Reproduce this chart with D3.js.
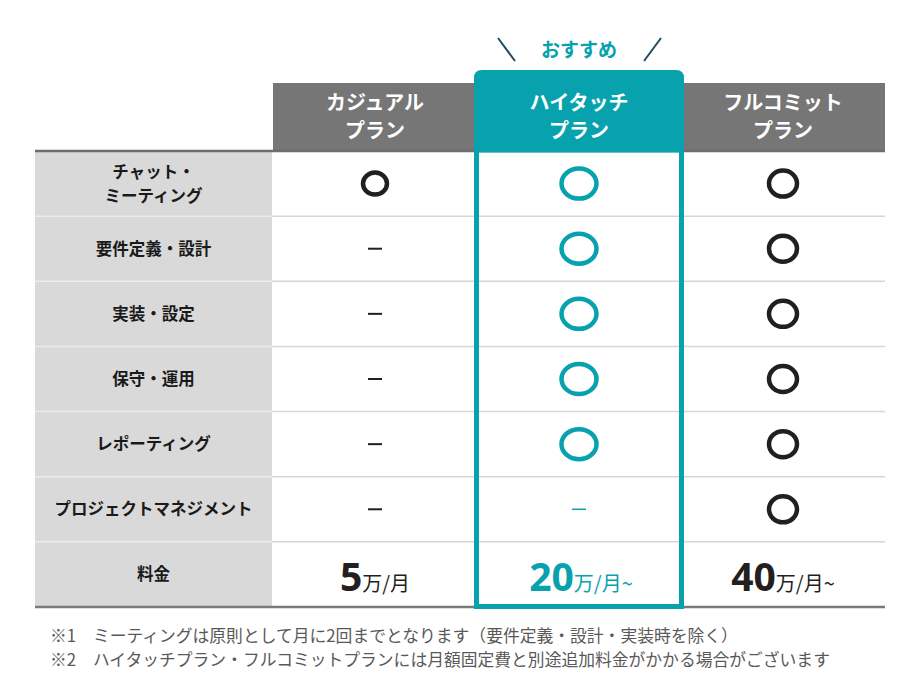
<!DOCTYPE html>
<html><head><meta charset="utf-8">
<script src="https://cdn.jsdelivr.net/npm/d3@7"></script>
<style>body{margin:0;background:#fff;font-family:"Noto Sans CJK JP","Noto Sans",sans-serif;}</style>
</head><body><svg id="c" width="920" height="690"></svg>
<script>
const plans = [["カジュアル","プラン"],["ハイタッチ","プラン"],["フルコミット","プラン"]];
const features = [["チャット・","ミーティング"],["要件定義・設計"],["実装・設定"],["保守・運用"],["レポーティング"],["プロジェクトマネジメント"],["料金"]];
const casual = ["o","-","-","-","-","-"];
const hightouch = ["o","o","o","o","o","-"];
const fullcommit = ["o","o","o","o","o","o"];
const prices = [["5","万/月"],["20","万/月~"],["40","万/月~"]];
const notes = ["※1　ミーティングは原則として月に2回までとなります（要件定義・設計・実装時を除く）","※2　ハイタッチプラン・フルコミットプランには月額固定費と別途追加料金がかかる場合がございます"];
const badge = "おすすめ";

const TEAL="#07a2ae", GRAY="#767676", DARK="#231f20";
const svg=d3.select("#c");
const x=d3.scaleBand().domain([0,1,2]).range([273,885]).paddingInner(0);
const y=d3.scaleBand().domain(d3.range(features.length)).range([151,607]);
const labelX0=35, labelX1=272;
const tx0=x(1)-3, tx1=x(2)+3, bw=5;

// label column bg
svg.append("rect").attr("x",labelX0).attr("y",y.range()[0]).attr("width",labelX1-labelX0).attr("height",y.range()[1]-y.range()[0]).attr("fill","#d9d9d9");
// row separators
features.forEach((f,i)=>{ if(i==0) return;
  svg.append("line").attr("x1",labelX0).attr("x2",labelX1).attr("y1",y(i)).attr("y2",y(i)).attr("stroke","#ececec").attr("stroke-width",1.5);
  svg.append("line").attr("x1",labelX1).attr("x2",885).attr("y1",y(i)).attr("y2",y(i)).attr("stroke","#d6d6d6").attr("stroke-width",1.5);
});
// headers gray
svg.append("rect").attr("x",x(0)).attr("y",83).attr("width",tx0-x(0)).attr("height",151-83).attr("fill",GRAY);
svg.append("rect").attr("x",tx1).attr("y",83).attr("width",885-tx1).attr("height",151-83).attr("fill",GRAY);
// top & bottom lines
svg.append("line").attr("x1",labelX0).attr("x2",885).attr("y1",151).attr("y2",151).attr("stroke","#6e6e6e").attr("stroke-width",2.5);
svg.append("line").attr("x1",labelX0).attr("x2",885).attr("y1",607).attr("y2",607).attr("stroke","#7a7a7a").attr("stroke-width",2.5);

// teal highlight
const r=8, ty0=70, ty1=609;
svg.append("path").attr("d",`M${tx0},151 L${tx0},${ty0+r} Q${tx0},${ty0} ${tx0+r},${ty0} L${tx1-r},${ty0} Q${tx1},${ty0} ${tx1},${ty0+r} L${tx1},151 Z`).attr("fill",TEAL);
svg.append("rect").attr("x",tx0+bw/2).attr("y",150).attr("width",tx1-tx0-bw).attr("height",ty1-150-bw/2).attr("fill","none").attr("stroke",TEAL).attr("stroke-width",bw);

// header text
plans.forEach((p,j)=>{
  const t=svg.append("text").attr("text-anchor","middle").attr("fill","#fff").attr("font-weight","bold").attr("font-size",20);
  p.forEach((l,k)=>t.append("tspan").attr("x",x(j)+x.bandwidth()/2).attr("y",110+k*28).text(l));
});
// badge
const cx1=x(1)+x.bandwidth()/2;
svg.append("text").attr("x",cx1).attr("y",57).attr("text-anchor","middle").attr("fill",TEAL).attr("font-weight","bold").attr("font-size",19).text(badge);
svg.append("line").attr("x1",cx1-81).attr("y1",38).attr("x2",cx1-64).attr("y2",61).attr("stroke","#1d4d63").attr("stroke-width",2);
svg.append("line").attr("x1",cx1+82).attr("y1",38).attr("x2",cx1+65).attr("y2",61).attr("stroke","#1d4d63").attr("stroke-width",2);

// feature labels
features.forEach((f,i)=>{
  const cy=y(i)+y.bandwidth()/2;
  const t=svg.append("text").attr("text-anchor","middle").attr("fill","#1a1a1a").attr("font-weight","bold").attr("font-size",16.5);
  const n=f.length;
  f.forEach((l,k)=>t.append("tspan").attr("x",(labelX0+labelX1)/2).attr("y",cy+6+(k-(n-1)/2)*24).text(l));
});

// marks
const cols=[casual,hightouch,fullcommit];
const circ=[{rx:12,ry:11,c:DARK},{rx:17.5,ry:15,c:TEAL},{rx:14,ry:13,c:DARK}];
cols.forEach((vals,j)=>{
  const cx=x(j)+x.bandwidth()/2;
  vals.forEach((v,i)=>{
    const cy=y(i)+y.bandwidth()/2;
    if(v==="o"){
      svg.append("ellipse").attr("cx",cx).attr("cy",cy).attr("rx",circ[j].rx).attr("ry",circ[j].ry).attr("fill","none").attr("stroke",circ[j].c).attr("stroke-width",4.5);
    } else {
      svg.append("line").attr("x1",cx-7).attr("x2",cx+7).attr("y1",cy).attr("y2",cy).attr("stroke",j==1?TEAL:DARK).attr("stroke-width",j==1?1.5:2);
    }
  });
});
// prices
const pi=features.length-1;
prices.forEach((p,j)=>{
  const cy=y(pi)+y.bandwidth()/2;
  const col=j==1?TEAL:DARK;
  const t=svg.append("text").attr("x",x(j)+x.bandwidth()/2+(j==1?2:0)).attr("y",cy+17).attr("text-anchor","middle").attr("fill",col);
  t.append("tspan").attr("font-weight","bold").attr("font-size",39).attr("font-family","'Open Sans','Noto Sans',sans-serif").text(p[0]);
  t.append("tspan").attr("font-size",20).text(p[1]);
});
// notes
notes.forEach((n,k)=>{
  svg.append("text").attr("x",50).attr("y",642+k*24).attr("fill","#595959").attr("font-size",16.8).text(n);
});
</script></body></html>
